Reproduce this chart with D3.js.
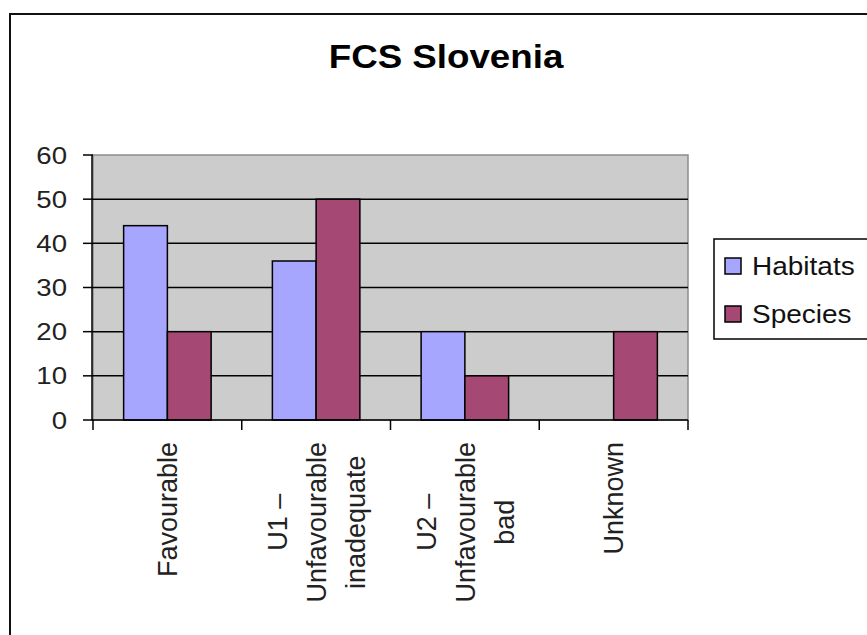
<!DOCTYPE html>
<html>
<head>
<meta charset="utf-8">
<script src="https://cdn.jsdelivr.net/npm/d3@7"></script>
<style>
  html, body { margin: 0; padding: 0; background: #fff; }
  svg { display: block; font-family: "Liberation Sans", Arial, sans-serif; }
</style>
</head>
<body>
<svg id="chart" width="867" height="635"></svg>
<script>
// Chart data
const categories = ["Favourable", "U1", "U2", "Unknown"];
const categoryLines = [
    ["Favourable"],
    ["U1 \u2013", "Unfavourable", "inadequate"],
    ["U2 \u2013", "Unfavourable", "bad"],
    ["Unknown"]
];
const seriesNames = ["Habitats", "Species"];
const habitats = [44, 36, 20, 0];
const species = [20, 50, 10, 20];
const yTicks = [0, 10, 20, 30, 40, 50, 60];
const colors = ["#a6a6ff", "#a64874"];

const svg = d3.select("#chart");

// Outer chart frame (right and bottom edges run off the picture)
svg.append("rect")
    .attr("x", 10).attr("y", 14)
    .attr("width", 900).attr("height", 700)
    .attr("fill", "#fff")
    .attr("stroke", "#111")
    .attr("stroke-width", 2);

// Title
svg.append("text")
    .attr("transform", "translate(446,68) scale(1.08,1)")
    .attr("text-anchor", "middle")
    .attr("font-size", 34)
    .attr("font-weight", "bold")
    .attr("fill", "#000")
    .text("FCS Slovenia");

const plot = { left: 93, right: 688, top: 155, bottom: 420 };

const x0 = d3.scaleBand()
    .domain(categories)
    .range([plot.left, plot.right]);

const x1 = d3.scaleBand()
    .domain(seriesNames)
    .range([0, x0.bandwidth()])
    .paddingInner(0)
    .paddingOuter(0.7);

const y = d3.scaleLinear()
    .domain([0, 60])
    .range([plot.bottom, plot.top]);

// Plot area background
svg.append("rect")
    .attr("x", plot.left).attr("y", plot.top)
    .attr("width", plot.right - plot.left)
    .attr("height", plot.bottom - plot.top)
    .attr("fill", "#cccccc")
    .attr("stroke", "#8c8c8c")
    .attr("stroke-width", 1.5);

// Gridlines
svg.append("g")
    .selectAll("line")
    .data(yTicks.filter(t => t > 0 && t < 60))
    .enter().append("line")
    .attr("x1", plot.left).attr("x2", plot.right)
    .attr("y1", d => y(d)).attr("y2", d => y(d))
    .attr("stroke", "#000")
    .attr("stroke-width", 1.5);

// Bars
const seriesData = [habitats, species];
seriesNames.forEach((name, si) => {
    svg.append("g")
        .selectAll("rect")
        .data(categories.map((c, i) => ({ cat: c, value: seriesData[si][i] })).filter(d => d.value > 0))
        .enter().append("rect")
        .attr("x", d => x0(d.cat) + x1(name))
        .attr("y", d => y(d.value))
        .attr("width", x1.bandwidth())
        .attr("height", d => y(0) - y(d.value))
        .attr("fill", colors[si])
        .attr("stroke", "#000")
        .attr("stroke-width", 1.5);
});

// Y axis
const yAxis = svg.append("g");
yAxis.append("line")
    .attr("x1", plot.left - 1).attr("x2", plot.left - 1)
    .attr("y1", plot.top).attr("y2", plot.bottom + 1)
    .attr("stroke", "#000").attr("stroke-width", 1.5);
yAxis.selectAll(".tick")
    .data(yTicks)
    .enter().append("line")
    .attr("x1", plot.left - 10).attr("x2", plot.left)
    .attr("y1", d => y(d)).attr("y2", d => y(d))
    .attr("stroke", "#000").attr("stroke-width", 1.5);
yAxis.selectAll(".label")
    .data(yTicks)
    .enter().append("text")
    .attr("transform", d => `translate(67,${y(d)}) scale(1.15,1)`)
    .attr("dy", "0.36em")
    .attr("text-anchor", "end")
    .attr("font-size", 24)
    .attr("fill", "#222")
    .text(d => d);

// X axis
const xAxis = svg.append("g");
xAxis.append("line")
    .attr("x1", plot.left - 1).attr("x2", plot.right)
    .attr("y1", plot.bottom).attr("y2", plot.bottom)
    .attr("stroke", "#000").attr("stroke-width", 1.5);
const bounds = categories.map(c => x0(c)).concat([x0.range()[1]]);
xAxis.selectAll(".tick")
    .data(bounds)
    .enter().append("line")
    .attr("x1", d => d).attr("x2", d => d)
    .attr("y1", plot.bottom).attr("y2", plot.bottom + 10)
    .attr("stroke", "#000").attr("stroke-width", 1.5);

// Rotated, wrapped category labels
const lineGap = 39;
categories.forEach((c, i) => {
    const lines = categoryLines[i];
    const cx = x0(c) + x0.bandwidth() / 2;
    const texts = lines.map((ln, j) => {
        return xAxis.append("text")
            .attr("text-anchor", "middle")
            .attr("dy", "0.36em")
            .attr("font-size", 27)
            .attr("fill", "#222")
            .text(ln)
            .datum(cx + (j - (lines.length - 1) / 2) * lineGap);
    });
    const maxLen = d3.max(texts, t => t.node().getComputedTextLength());
    const yc = 442 + maxLen / 2;
    texts.forEach(t => t.attr("transform", `translate(${t.datum()},${yc}) rotate(-90)`));
});

// Legend
const legend = svg.append("g");
legend.append("rect")
    .attr("x", 714).attr("y", 239)
    .attr("width", 200).attr("height", 100)
    .attr("fill", "#fff")
    .attr("stroke", "#000")
    .attr("stroke-width", 1.5);
seriesNames.forEach((name, i) => {
    const cy = 266 + i * 48;
    legend.append("rect")
        .attr("x", 725).attr("y", cy - 8)
        .attr("width", 16).attr("height", 16)
        .attr("fill", colors[i])
        .attr("stroke", "#000")
        .attr("stroke-width", 1.5);
    legend.append("text")
        .attr("transform", `translate(752,${cy}) scale(1.12,1)`)
        .attr("dy", "0.36em")
        .attr("font-size", 25)
        .attr("fill", "#111")
        .text(name);
});
</script>
</body>
</html>
